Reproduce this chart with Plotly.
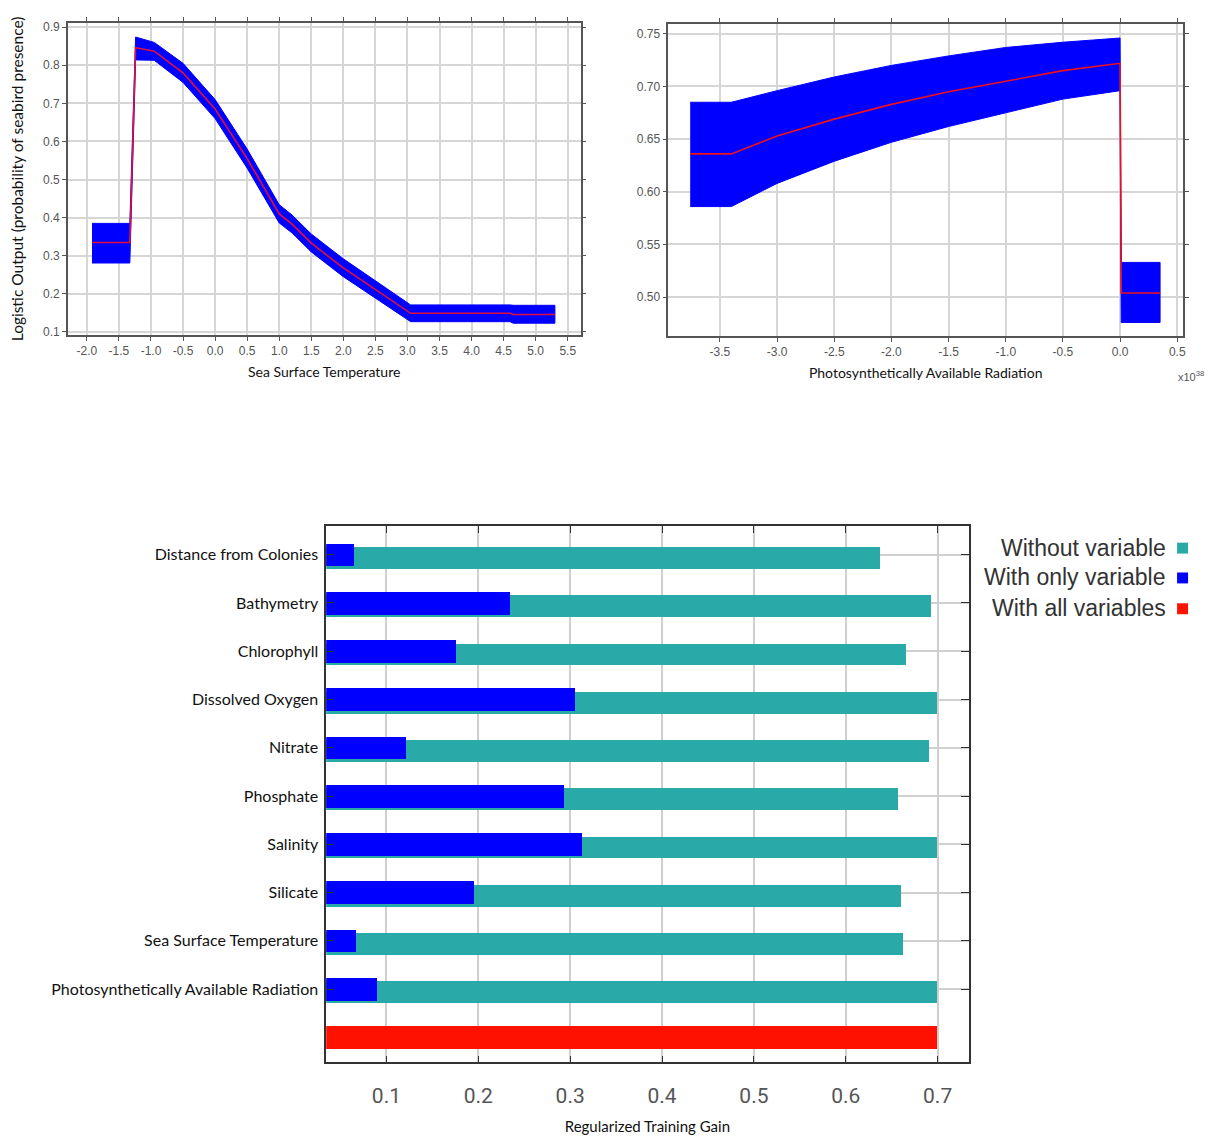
import plotly.graph_objects as go

W, H = 1213, 1137

# ---------------- Data ----------------
# Response curve: Sea Surface Temperature
sst_x    = [-1.92, -1.33, -1.24, -0.95, -0.5, 0.0, 0.5, 1.0, 1.2, 1.5, 2.0, 2.5, 3.05, 4.6, 4.65, 5.3]
sst_mean = [0.335, 0.335, 0.846, 0.837, 0.780, 0.685, 0.555, 0.410, 0.383, 0.333, 0.268, 0.211, 0.149, 0.149, 0.146, 0.146]
sst_lo   = [0.281, 0.281, 0.814, 0.813, 0.755, 0.660, 0.530, 0.386, 0.360, 0.310, 0.245, 0.189, 0.127, 0.127, 0.123, 0.123]
sst_hi   = [0.385, 0.385, 0.874, 0.860, 0.805, 0.710, 0.580, 0.434, 0.407, 0.357, 0.292, 0.234, 0.171, 0.171, 0.170, 0.170]
sst_ticks = [-2.0, -1.5, -1.0, -0.5, 0.0, 0.5, 1.0, 1.5, 2.0, 2.5, 3.0, 3.5, 4.0, 4.5, 5.0, 5.5]
sst_ticktext = ["-2.0", "-1.5", "-1.0", "-0.5", "0.0", "0.5", "1.0", "1.5", "2.0", "2.5",
                "3.0", "3.5", "4.0", "4.5", "5.0", "5.5"]
sst_yticks = [0.1, 0.2, 0.3, 0.4, 0.5, 0.6, 0.7, 0.8, 0.9]

# Response curve: Photosynthetically Available Radiation (x10^38)
par_x    = [-3.76, -3.40, -3.0, -2.5, -2.0, -1.5, -1.0, -0.5, 0.0, 0.01, 0.35]
par_mean = [0.636, 0.636, 0.653, 0.669, 0.683, 0.695, 0.705, 0.715, 0.722, 0.504, 0.504]
par_hi   = [0.685, 0.685, 0.696, 0.709, 0.720, 0.729, 0.737, 0.742, 0.746, 0.533, 0.533]
par_lo   = [0.586, 0.586, 0.608, 0.629, 0.647, 0.662, 0.675, 0.688, 0.696, 0.476, 0.476]
par_ticks = [-3.5, -3.0, -2.5, -2.0, -1.5, -1.0, -0.5, 0.0, 0.5]
par_ticktext = ["-3.5", "-3.0", "-2.5", "-2.0", "-1.5", "-1.0", "-0.5", "0.0", "0.5"]
par_yticks = [0.50, 0.55, 0.60, 0.65, 0.70, 0.75]

# Jackknife of regularized training gain (top to bottom)
variables = ["Distance from Colonies", "Bathymetry", "Chlorophyll", "Dissolved Oxygen", "Nitrate",
             "Phosphate", "Salinity", "Silicate", "Sea Surface Temperature",
             "Photosynthetically Available Radiation"]
gain_without = [0.638, 0.693, 0.666, 0.700, 0.691, 0.657, 0.700, 0.660, 0.663, 0.700]
gain_only    = [0.065, 0.235, 0.176, 0.305, 0.122, 0.293, 0.313, 0.196, 0.067, 0.090]
gain_all     = 0.699
gain_ticks   = [0.1, 0.2, 0.3, 0.4, 0.5, 0.6, 0.7]

legend_names = ["Without variable", "With only variable", "With all variables"]
TEAL, BLUE, RED = "#29AAA9", "#0000FF", "#FF1100"

# ---------------- helpers ----------------
def px(x):
    return x / W

def py(y):
    return 1 - y / H

n = len(variables)
rows = [n - i for i in range(n)]   # top variable gets highest position; all-variables row at 0

fig = go.Figure()

# SST band + mean
fig.add_trace(go.Scatter(x=sst_x + sst_x[::-1], y=sst_hi + sst_lo[::-1], fill="toself",
                         fillcolor=BLUE, line=dict(color=BLUE, width=1), mode="lines",
                         xaxis="x", yaxis="y", hoverinfo="skip", showlegend=False))
fig.add_trace(go.Scatter(x=sst_x, y=sst_mean, mode="lines", line=dict(color="#E0103A", width=1.6),
                         xaxis="x", yaxis="y", showlegend=False))

# PAR band + mean
fig.add_trace(go.Scatter(x=par_x + par_x[::-1], y=par_hi + par_lo[::-1], fill="toself",
                         fillcolor=BLUE, line=dict(color=BLUE, width=1), mode="lines",
                         xaxis="x2", yaxis="y2", hoverinfo="skip", showlegend=False))
fig.add_trace(go.Scatter(x=par_x, y=par_mean, mode="lines", line=dict(color="#F0101A", width=1.6),
                         xaxis="x2", yaxis="y2", showlegend=False))

# Jackknife bars
fig.add_trace(go.Bar(y=rows, x=gain_without, orientation="h", marker=dict(color=TEAL, line=dict(width=0)),
                     width=0.45, offset=-0.285, name=legend_names[0],
                     xaxis="x3", yaxis="y3", showlegend=False))
fig.add_trace(go.Bar(y=rows, x=gain_only, orientation="h", marker=dict(color=BLUE, line=dict(width=0)),
                     width=0.47, offset=-0.235, name=legend_names[1],
                     xaxis="x3", yaxis="y3", showlegend=False))
fig.add_trace(go.Bar(y=[0], x=[gain_all], orientation="h", marker=dict(color=RED, line=dict(width=0)),
                     width=0.47, offset=-0.235, name=legend_names[2],
                     xaxis="x3", yaxis="y3", showlegend=False))

tick_font = dict(family="Liberation Sans, Arial, sans-serif", size=12, color="#555555")
title_font = dict(family="Lato, sans-serif", size=14, color="#111111")
grid = dict(showgrid=True, gridcolor="#d6d6d6", gridwidth=1.5, zeroline=False,
            showline=True, linecolor="#555555", linewidth=1.5, mirror="ticks",
            ticks="outside", ticklen=4, tickcolor="#555555", tickfont=tick_font)

fig.update_layout(
    width=W, height=H, margin=dict(l=0, r=0, t=0, b=0),
    paper_bgcolor="white", plot_bgcolor="white", barmode="overlay", bargap=0,
    xaxis=dict(domain=[px(68), px(582)], anchor="y", range=[-2.297, 5.70],
               tickvals=sst_ticks, ticktext=sst_ticktext,
               title=dict(text="Sea Surface Temperature", font=title_font, standoff=10), **grid),
    yaxis=dict(domain=[py(334), py(20)], anchor="x", range=[0.0922, 0.9112],
               tickvals=sst_yticks, tickformat=".1f",
               title=dict(text="Logistic Output (probability of seabird presence)",
                          font=dict(family="Lato, sans-serif", size=15.5, color="#111111"), standoff=16),
               **grid),
    xaxis2=dict(domain=[px(670), px(1186)], anchor="y2", range=[-3.951, 0.551],
                tickvals=par_ticks, ticktext=par_ticktext,
                title=dict(text="Photosynthetically Available Radiation", font=title_font, standoff=10), **grid),
    yaxis2=dict(domain=[py(335), py(20.7)], anchor="x2", range=[0.4632, 0.7597],
                tickvals=par_yticks, tickformat=".2f", **grid),
    xaxis3=dict(domain=[px(327), px(971)], anchor="y3", range=[0.0344, 0.7337],
                tickvals=gain_ticks, tickformat=".1f",
                showgrid=True, gridcolor="#cfcfcf", gridwidth=1.5, zeroline=False,
                showline=True, linecolor="#333333", linewidth=1.5, mirror="ticks",
                ticks="inside", ticklen=7, tickcolor="#333333", ticklabelstandoff=14,
                tickfont=dict(family="Roboto, sans-serif", size=21, color="#555555"),
                title=dict(text="Regularized Training Gain",
                           font=dict(family="Lato, sans-serif", size=15, color="#111111"), standoff=14)),
    yaxis3=dict(domain=[py(1066), py(526)], anchor="x3", range=[-0.52, 10.60],
                tickvals=rows, ticktext=variables,
                showgrid=True, gridcolor="#d0d0d0", gridwidth=1.5, zeroline=False,
                showline=True, linecolor="#333333", linewidth=1.5, mirror="ticks",
                ticks="inside", ticklen=8, tickcolor="#333333", ticklabelstandoff=3,
                tickfont=dict(family="Lato, sans-serif", size=16, color="#111111")),
)

# x10^38 multiplier label
fig.add_annotation(x=px(1179), y=py(366), xref="paper", yref="paper", text="x10<sup>38</sup>",
                   showarrow=False, xanchor="left",
                   font=dict(family="Liberation Sans, Arial, sans-serif", size=11, color="#555555"))

# Legend (text right-aligned with coloured squares on the right)
leg_y = [548, 578, 609]
for name, col, yy in zip(legend_names, [TEAL, BLUE, RED], leg_y):
    fig.add_annotation(x=px(1171), y=py(yy), xref="paper", yref="paper", text=name, showarrow=False,
                       xanchor="right", yanchor="middle",
                       font=dict(family="Liberation Sans, Arial, sans-serif", size=23, color="#333333"))
    fig.add_shape(type="rect", xref="paper", yref="paper", x0=px(1180), x1=px(1191),
                  y0=py(yy + 6), y1=py(yy - 5), fillcolor=col, line=dict(width=0))

fig.write_html("out.html", config={"displayModeBar": False},
               post_script="document.body.style.margin='0px';document.body.style.overflow='hidden';")
